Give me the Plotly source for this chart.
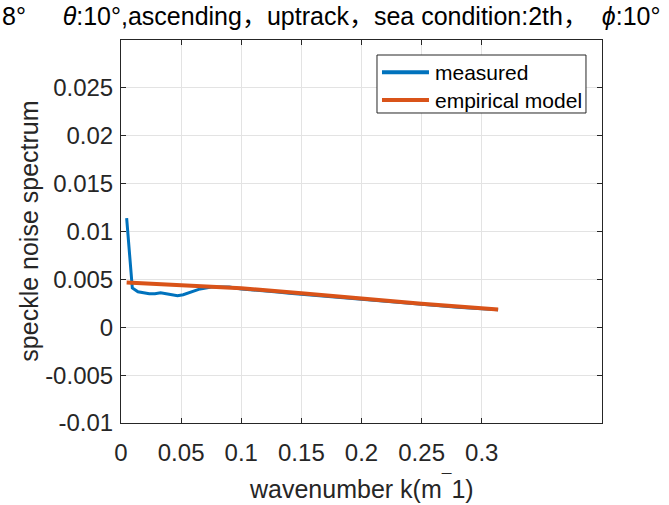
import plotly.graph_objects as go

# ---- data ----
k_measured = [0.0047, 0.0094, 0.0141, 0.0188, 0.0235, 0.0282, 0.0329, 0.0376, 0.0423, 0.047,
              0.0517, 0.0564, 0.0611, 0.0658, 0.0705, 0.0752, 0.08, 0.09, 0.10, 0.11,
              0.12, 0.13, 0.14, 0.15, 0.16, 0.17, 0.18, 0.19, 0.20, 0.21,
              0.22, 0.23, 0.24, 0.25, 0.26, 0.27, 0.28, 0.29, 0.30, 0.3136]
measured = [0.0114, 0.0041, 0.0037, 0.0036, 0.0035, 0.0035, 0.0036, 0.0035, 0.0034, 0.0033,
            0.0034, 0.0036, 0.0038, 0.0040, 0.0041, 0.0042, 0.0042, 0.0042, 0.0040, 0.00392,
            0.0038, 0.00368, 0.00356, 0.00345, 0.00334, 0.00323, 0.00312, 0.00300, 0.00290, 0.00280,
            0.00270, 0.00259, 0.00248, 0.00238, 0.00228, 0.00219, 0.00210, 0.00201, 0.00193, 0.00183]

k_model = [0.0047, 0.05, 0.10, 0.15, 0.20, 0.25, 0.3136]
model = [0.00468, 0.00443, 0.00408, 0.00356, 0.00300, 0.00245, 0.00186]

x_ticks = [0, 0.05, 0.1, 0.15, 0.2, 0.25, 0.3]
x_ticktext = ["0", "0.05", "0.1", "0.15", "0.2", "0.25", "0.3"]
y_ticks = [-0.01, -0.005, 0, 0.005, 0.01, 0.015, 0.02, 0.025]
y_ticktext = ["-0.01", "-0.005", "0", "0.005", "0.01", "0.015", "0.02", "0.025"]

series_names = ["measured", "empirical model"]
title_text = "<i>θ</i>:10°,ascending，uptrack，sea condition:2th，  <i>ϕ</i>:10°"
left_fragment = "8°"
x_title = "wavenumber k(m<sup>¯</sup>1)"
y_title = "speckle noise spectrum"

BLUE = "#0072BD"
ORANGE = "#D95319"
AXC = "#262626"
FONT = "Liberation Sans, Arial, Noto Sans CJK SC, sans-serif"

fig = go.Figure()
fig.add_trace(go.Scatter(x=k_measured, y=measured, mode="lines", name=series_names[0],
                         line=dict(color=BLUE, width=3), showlegend=False))
fig.add_trace(go.Scatter(x=k_model, y=model, mode="lines", name=series_names[1],
                         line=dict(color=ORANGE, width=4), showlegend=False))

axis_common = dict(
    showline=True, linecolor=AXC, linewidth=1, mirror="ticks",
    ticks="inside", ticklen=5, tickcolor=AXC, tickwidth=1,
    showgrid=True, gridcolor="#e3e3e3", gridwidth=1,
    zeroline=False, automargin=False,
    tickfont=dict(family=FONT, size=24, color=AXC),
)

# ---- manual legend (MATLAB-like compact box) ----
leg_x0, leg_x1, leg_y0, leg_y1 = 0.5322, 0.9667, 0.8094, 0.9608
line_x0, line_x1, text_x = 0.5426, 0.6403, 0.6486
row_y = [0.9157, 0.8433]
leg_colors = [BLUE, ORANGE]

shapes = [dict(type="rect", xref="paper", yref="paper", x0=leg_x0, x1=leg_x1, y0=leg_y0, y1=leg_y1,
               line=dict(color=AXC, width=1), fillcolor="white", layer="above")]
annotations = []
for name, col, yy in zip(series_names, leg_colors, row_y):
    shapes.append(dict(type="line", xref="paper", yref="paper", x0=line_x0, x1=line_x1, y0=yy, y1=yy,
                       line=dict(color=col, width=4), layer="above"))
    annotations.append(dict(text=name, xref="paper", yref="paper", x=text_x, y=yy,
                            xanchor="left", yanchor="middle", showarrow=False,
                            font=dict(family=FONT, size=21, color="black")))

annotations.append(dict(text=left_fragment, xref="paper", yref="paper", x=-0.252, y=1.062,
                        xanchor="left", yanchor="middle", showarrow=False,
                        font=dict(family=FONT, size=25, color="black")))
# axis titles
annotations.append(dict(text=x_title, xref="paper", yref="paper", x=0.5, y=-0.168,
                        xanchor="center", yanchor="middle", showarrow=False,
                        font=dict(family=FONT, size=25, color=AXC)))
annotations.append(dict(text=y_title, xref="paper", yref="paper", x=-0.193, y=0.5,
                        xanchor="center", yanchor="middle", showarrow=False, textangle=-90,
                        font=dict(family=FONT, size=25, color=AXC)))

fig.update_layout(
    width=669, height=505,
    margin=dict(l=121, r=67, t=40, b=82, autoexpand=False),
    paper_bgcolor="white", plot_bgcolor="white",
    font=dict(family=FONT, color=AXC),
    title=dict(text=title_text, x=0.5405, xanchor="center", y=0.968, yanchor="middle",
               font=dict(family=FONT, size=25, color="black")),
    xaxis=dict(range=[0, 0.4], tickvals=x_ticks, ticktext=x_ticktext, ticklabelstandoff=8,
               **axis_common),
    yaxis=dict(range=[-0.01, 0.03], tickvals=y_ticks, ticktext=y_ticktext, ticklabelstandoff=2,
               **axis_common),
    showlegend=False,
    shapes=shapes,
    annotations=annotations,
)

fig.write_html("out.html")
